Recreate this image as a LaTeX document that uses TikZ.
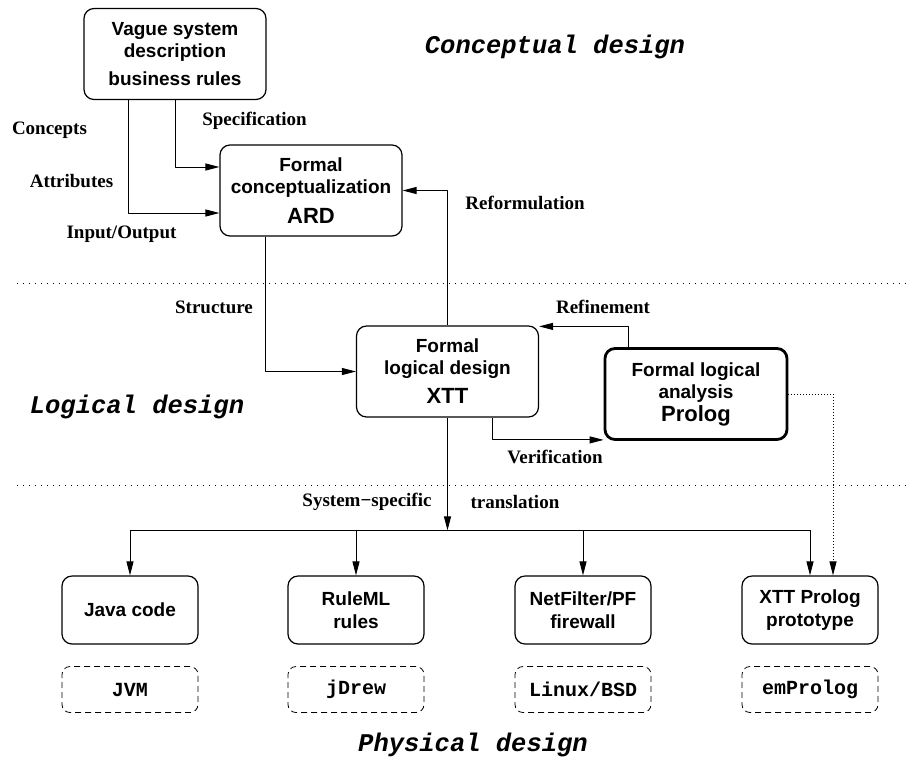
\documentclass[tikz,border=0pt]{standalone}
\usepackage{fontspec}
\setmainfont{Liberation Serif}
\setsansfont{Liberation Sans}
\setmonofont{Liberation Mono}
\usetikzlibrary{arrows.meta}
\begin{document}
\begin{tikzpicture}[x=1pt,y=-1pt,>={Triangle[length=14pt,width=7pt]},line join=round,
	box/.style={draw,rounded corners=10pt,line width=1.2pt,align=center,inner sep=0pt,
		font=\sffamily\bfseries\fontsize{19}{22}\selectfont},
	bigbox/.style={box,minimum width=182pt,minimum height=91pt},
	sysbox/.style={box,minimum width=136pt,minimum height=68pt,
		font=\sffamily\bfseries\fontsize{19}{23}\selectfont},
	vmbox/.style={draw,rounded corners=8pt,line width=.8pt,dash pattern=on 6pt off 4pt,
		minimum width=136pt,minimum height=46pt,font=\ttfamily\bfseries\fontsize{20}{22}\selectfont},
	lbl/.style={font=\rmfamily\bfseries\fontsize{19}{22}\selectfont},
	phase/.style={font=\ttfamily\bfseries\itshape\fontsize{25.5}{28}\selectfont},
	conn/.style={->,line width=1pt},
	sep/.style={line width=1pt,dash pattern=on 1pt off 5pt}]
	\useasboundingbox (0,0) rectangle (909,763);
	\def\bigf{\fontsize{22}{24}\selectfont}
	% design phases
	\node[phase] (cd) at (555,47) {Conceptual design};
	\node[phase] (ld) at (137,407) {Logical design};
	\node[phase] (pd) at (473,745) {Physical design};
	\draw[sep] (17,283) -- (909,283);
	\draw[sep] (17,485) -- (909,485);
	% main boxes
	\node[bigbox] (vague) at (175,54) {Vague system\\description\\[6pt]business rules};
	\node[bigbox] (ard) at (311,190.5) {Formal\\conceptualization\\[8pt]{\bigf ARD}};
	\node[bigbox] (xtt) at (447.5,371.5) {Formal\\logical design\\[7pt]{\bigf XTT}};
	\node[bigbox,line width=2.8pt] (prolog) at (696,394) {Formal logical\\analysis\\[1pt]{\bigf Prolog}};
	\foreach \n/\x/\t/\v in {java/130/{Java code}/JVM,ruleml/356/{RuleML\\rules}/jDrew,
		netf/583/{NetFilter/PF\\firewall}/{Linux/BSD},xttpl/810/{XTT Prolog\\prototype}/emProlog}{
		\node[sysbox] (\n) at (\x,610) {\t};
		\node[vmbox] (\n vm) at (\x,689.5) {\v};
	}
	% connectors
	\draw[conn] ([xshift=45pt]vague.south west) |- ([yshift=-22.5pt]ard.west);
	\draw[conn] (vague.south) |- ([yshift=23.5pt]ard.west);
	\draw[conn] ([xshift=46pt]ard.south west) |- (xtt.west);
	\draw[conn] (xtt.north) |- (ard.east);
	\draw[conn] ([xshift=-68pt]prolog.north) |- ([yshift=-1pt]xtt.north east);
	\draw[conn] ([xshift=44.5pt]xtt.south) |- ([yshift=1pt]prolog.south west);
	\path (java.north) ++(0,-45) coordinate (busL);
	\draw[conn] (xtt.south) -- (xtt.south |- busL);
	\draw[line width=1pt] (busL) -- (xttpl.north |- busL);
	\foreach \n in {java,ruleml,netf,xttpl}
		\draw[conn] (\n.north |- busL) -- (\n.north);
	\draw[conn,dotted] (prolog.east) -| ([xshift=23pt]xttpl.north);
	% labels
	\node[lbl] (l1) at (49.5,130) {Concepts};
	\node[lbl] (l2) at (71.5,181) {Attributes};
	\node[lbl] (l3) at (121.5,234) {Input/Output};
	\node[lbl] (l4) at (254.5,121) {Specification};
	\node[lbl] (l5) at (525,203) {Reformulation};
	\node[lbl] (l6) at (214,307) {Structure};
	\node[lbl] (l7) at (603,307) {Refinement};
	\node[lbl] (l8) at (555,457) {Verification};
	\node[lbl] (l9) at (367,502) {System\char"2212 specific};
	\node[lbl] (l10) at (515,502) {translation};
\end{tikzpicture}
\end{document}
